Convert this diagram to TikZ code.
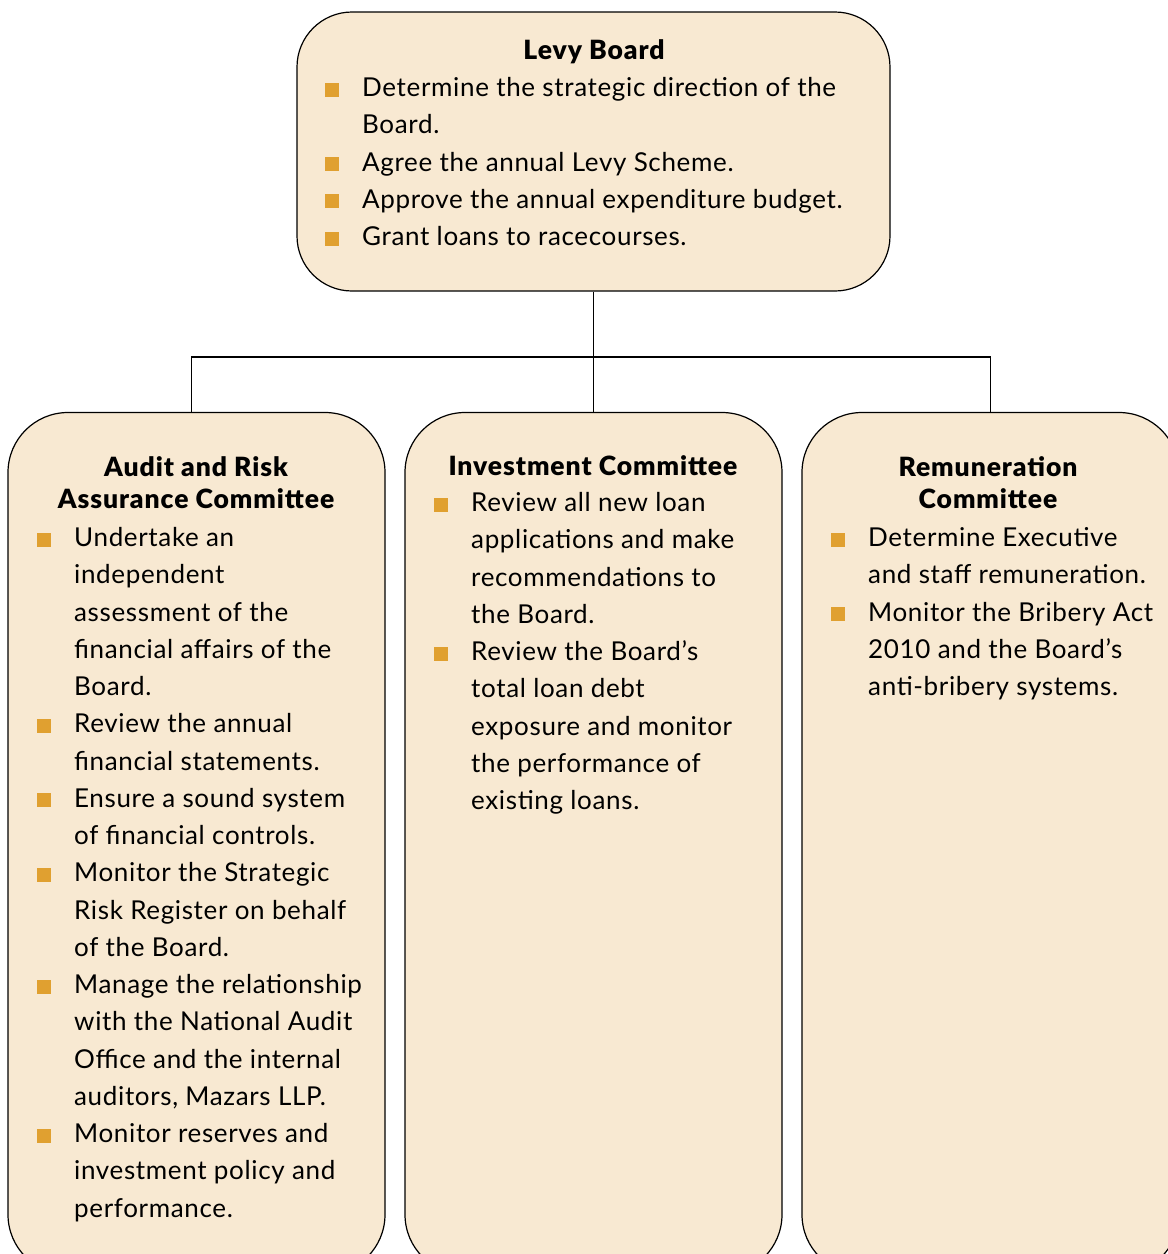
\documentclass[tikz,border=0pt]{standalone}
\usepackage{fontspec}
\setmainfont{Lato}[BoldFont={Lato Black}]
\newfontfamily\bodyfont{Lato}[LetterSpace=2.5]
\newfontfamily\titlefont{Lato Black}[LetterSpace=3.5]
\usetikzlibrary{calc}
\definecolor{boxfill}{RGB}{248,233,210}
\definecolor{bulc}{RGB}{224,160,48}
\newcommand\bul{\llap{\textcolor{bulc}{\rule{14pt}{14pt}}\hspace{23pt}}}
\newcommand\txtlines[4]{%
  \foreach \t [count=\i from 0] in {#4} {%
    \node[body] (#1\i) at ({#2},{#3+37.25*\i}) {\t};}}
\begin{document}
\begin{tikzpicture}[x=1pt,y=-1pt,
  box/.style={draw=black, line width=1.2pt, fill=boxfill, rounded corners=#1, inner sep=0pt},
  box/.default=60pt,
  body/.style={anchor=base west, inner sep=0pt, font=\bodyfont\fontsize{26}{30}\selectfont},
  title/.style={anchor=base, inner sep=0pt, font=\titlefont\fontsize{26.5}{30}\selectfont},
  conn/.style={draw=black, line width=1.2pt}]
\useasboundingbox (0,0) rectangle (1168,1254);
\clip (0,0) rectangle (1168,1254);
% boxes
\node[box=55pt, minimum width=593pt, minimum height=279pt] (top) at (593.5,151.5) {};
\node[box, minimum width=377pt, minimum height=862pt] (left) at (196.5,843.5) {};
\node[box, minimum width=377pt, minimum height=862pt] (mid) at (593.5,843.5) {};
\node[box, minimum width=377pt, minimum height=862pt] (right) at (990.5,843.5) {};
% connectors
\coordinate (j) at (594,357);
\draw[conn] (top.south) -- (mid.north);
\draw[conn] ([xshift=-5pt]left.north) -- ([xshift=-5pt]left.north |- j) -- (right.north |- j) -- (right.north);
% top box
\node[title] (ttop) at (594,59) {Levy Board};
\txtlines{tb}{362}{96.7}{{\bul Determine the strategic direction of the},
  Board.,
  {\bul Agree the annual Levy Scheme.},
  {\bul Approve the annual expenditure budget.},
  {\bul Grant loans to racecourses.}}
% left box
\node[title] (tl1) at (196,476) {Audit and Risk};
\node[title] (tl2) at (196,508.3) {Assurance Committee};
\txtlines{lb}{74}{546.7}{{\bul Undertake an},
  independent,
  assessment of the,
  financial affairs of the,
  Board.,
  {\bul Review the annual},
  financial statements.,
  {\bul Ensure a sound system},
  of financial controls.,
  {\bul Monitor the Strategic},
  Risk Register on behalf,
  of the Board.,
  {\bul Manage the relationship},
  with the National Audit,
  Office and the internal,
  {auditors, Mazars LLP.},
  {\bul Monitor reserves and},
  investment policy and,
  performance.}
% middle box
\node[title] (tm1) at (593,475) {Investment Committee};
\txtlines{mb}{471}{511.7}{{\bul Review all new loan},
  applications and make,
  recommendations to,
  the Board.,
  {\bul Review the Board’s},
  total loan debt,
  exposure and monitor,
  the performance of,
  existing loans.}
% right box
\node[title] (tr1) at (988,476) {Remuneration};
\node[title] (tr2) at (988,508.3) {Committee};
\txtlines{rb}{868}{546.7}{{\bul Determine Executive},
  and staff remuneration.,
  {\bul Monitor the Bribery Act},
  2010 and the Board’s,
  anti-bribery systems.}
\end{tikzpicture}
\end{document}
